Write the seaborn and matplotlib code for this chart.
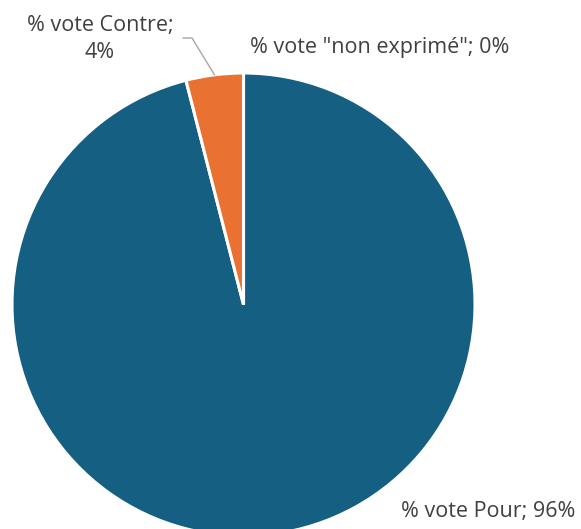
import numpy as np
import matplotlib
matplotlib.use('Agg')
import matplotlib.pyplot as plt
import seaborn as sns

# Data
categories = ['% vote Pour', '% vote Contre', '% vote "non exprimé"']
values = [96, 4, 0]
colors = ['#155F82', '#E97132', '#196B24']

sns.set_theme(style="white")
plt.rcParams['font.family'] = ['Open Sans', 'DejaVu Sans']

W, H = 581, 529
R = 231.5          # pie radius in px
cx, cy = 243.5, 304.5


def px(x, y):
    return (x - cx) / R, (cy - y) / R


fig = plt.figure(figsize=(W / 100, H / 100), dpi=100)
ax = fig.add_axes([0, 0, 1, 1])
wedges, _ = ax.pie(values, colors=colors, startangle=90, counterclock=False,
                   radius=1, wedgeprops=dict(edgecolor='white', linewidth=2.2))
ax.set_xlim(-cx / R, (W - cx) / R)
ax.set_ylim(-(H - cy) / R, cy / R)
ax.set_aspect('equal')
ax.axis('off')

labels = [f'{c}; {v}%' for c, v in zip(categories, values)]
txt = dict(color='#404040', fontsize=15.5, ha='center', va='center')

# Pour
ax.text(*px(488, 511), labels[0], **txt)
# Contre (wrapped) with leader line
ax.text(*px(100, 39), labels[1].replace('; ', ';\n'), linespacing=1.35, **txt)
w = wedges[1]
mid = np.deg2rad((w.theta1 + w.theta2) / 2)
anchor = (np.cos(mid), np.sin(mid))
elbow = px(192, 38)
start = px(183, 38)
ax.plot([start[0], elbow[0], anchor[0]], [start[1], elbow[1], anchor[1]],
        color='#A6A6A6', lw=1)
# non exprimé
ax.text(*px(380, 47), labels[2], **txt)

fig.savefig('out.png', dpi=100)
